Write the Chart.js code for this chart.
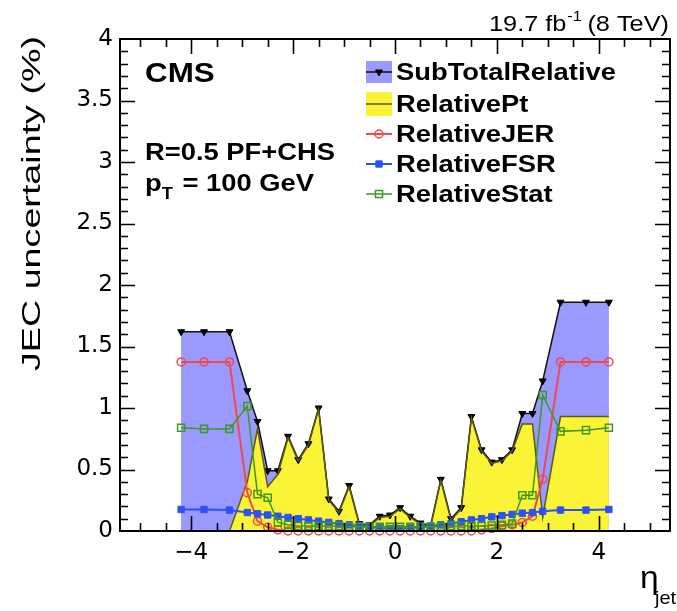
<!DOCTYPE html>
<html>
<head>
<meta charset="utf-8">
<script src="https://cdn.jsdelivr.net/npm/chart.js@4.4.1/dist/chart.umd.min.js"></script>
<style>
  body { margin: 0; background: #fff; }
  canvas { display: block; }
</style>
</head>
<body>
<canvas id="jecChart" width="677" height="611"></canvas>
<script>
// eta points of the JEC bins
var etaPoints = [-4.2, -3.75, -3.25, -2.9, -2.7, -2.5, -2.3, -2.1, -1.9, -1.7, -1.5, -1.3, -1.1, -0.9, -0.7, -0.5, -0.3, -0.1,
                 0.1, 0.3, 0.5, 0.7, 0.9, 1.1, 1.3, 1.5, 1.7, 1.9, 2.1, 2.3, 2.5, 2.7, 2.9, 3.25, 3.75, 4.2];

// uncertainties in %
var subTotalRelative = [1.62, 1.62, 1.62, 1.14, 0.89, 0.49, 0.49, 0.77, 0.58, 0.71, 1.00, 0.26, 0.16, 0.37, 0.06, 0.05, 0.12, 0.13,
                        0.19, 0.12, 0.065, 0.045, 0.42, 0.10, 0.19, 0.93, 0.66, 0.56, 0.58, 0.66, 0.955, 0.955, 1.22, 1.86, 1.86, 1.86];
var relativePt = [0, 0, 0, 0.40, 0.83, 0.36, 0.46, 0.76, 0.57, 0.70, 0.99, 0.25, 0.15, 0.36, 0.05, 0.04, 0.11, 0.12,
                  0.18, 0.11, 0.055, 0.035, 0.41, 0.09, 0.18, 0.92, 0.65, 0.55, 0.57, 0.65, 0.87, 0.87, 0.11, 0.93, 0.93, 0.93];
var relativeJER = [1.375, 1.375, 1.375, 0.31, 0.08, 0.03, 0.01, 0, 0, 0, 0, 0, 0, 0, 0, 0, 0, 0,
                   0, 0, 0, 0, 0, 0, 0, 0, 0.01, 0.02, 0.04, 0.05, 0.07, 0.12, 0.42, 1.375, 1.375, 1.375];
var relativeFSR = [0.175, 0.175, 0.17, 0.15, 0.14, 0.13, 0.12, 0.11, 0.10, 0.09, 0.08, 0.07, 0.06, 0.05, 0.04, 0.03, 0.025, 0.02,
                   0.02, 0.025, 0.03, 0.04, 0.05, 0.06, 0.075, 0.09, 0.10, 0.115, 0.125, 0.135, 0.145, 0.15, 0.16, 0.17, 0.17, 0.175];
var relativeStat = [0.84, 0.83, 0.83, 1.015, 0.30, 0.27, 0.07, 0.05, 0.04, 0.04, 0.04, 0.04, 0.04, 0.035, 0.035, 0.035, 0.035, 0.035,
                    0.035, 0.035, 0.035, 0.035, 0.035, 0.04, 0.04, 0.04, 0.04, 0.045, 0.05, 0.06, 0.29, 0.29, 1.105, 0.81, 0.82, 0.84];

var xTickValues = [-4, -2, 0, 2, 4];
var legendLabels = ["SubTotalRelative", "RelativePt", "RelativeJER", "RelativeFSR", "RelativeStat"];

function pts(vals) {
  return etaPoints.map(function (e, i) { return { x: e, y: vals[i] }; });
}

var FONT = '"Liberation Sans", Arial, sans-serif';

function putText(ctx, txt, x, y, size, bold, sx, align) {
  ctx.save();
  ctx.font = (bold ? 'bold ' : '') + size + 'px ' + FONT;
  var w = ctx.measureText(txt).width * sx;
  var x0 = align === 'right' ? x - w : x;
  ctx.translate(x0, y);
  ctx.scale(sx, 1);
  ctx.textAlign = 'left';
  ctx.textBaseline = 'alphabetic';
  ctx.fillStyle = '#000';
  ctx.fillText(txt, 0, 0);
  ctx.restore();
  return x0 + w;
}

// ROOT style frame with inner ticks on all four sides
var rootFrame = {
  id: 'rootFrame',
  afterDatasetsDraw: function (chart) {
    var ctx = chart.ctx, a = chart.chartArea;
    var xs = chart.scales.x, ys = chart.scales.y;
    ctx.save();
    ctx.strokeStyle = '#000';
    ctx.lineWidth = 1.6;
    ctx.beginPath();
    for (var v = -5; v <= 5.001; v += 0.5) {
      var px = Math.round(xs.getPixelForValue(v)) + 0.5;
      var len = Math.abs(v % 2) < 0.001 ? 15 : 8;
      ctx.moveTo(px, a.bottom); ctx.lineTo(px, a.bottom - len);
      ctx.moveTo(px, a.top); ctx.lineTo(px, a.top + len);
    }
    for (var k = 1; k < 40; k++) {
      var py = Math.round(ys.getPixelForValue(k / 10)) + 0.5;
      var l2 = k % 5 === 0 ? 15 : 8;
      ctx.moveTo(a.left, py); ctx.lineTo(a.left + l2, py);
      ctx.moveTo(a.right, py); ctx.lineTo(a.right - l2, py);
    }
    ctx.stroke();
    ctx.lineWidth = 2;
    ctx.strokeRect(a.left, a.top, a.right - a.left, a.bottom - a.top);
    ctx.restore();
  },
  afterDraw: function (chart) {
    var ctx = chart.ctx;
    var ds = chart.data.datasets;

    // lumi label
    ctx.save();
    var x = putText(ctx, '19.7 fb', 489, 31, 22, false, 1.15);
    ctx.save();
    ctx.font = '14px ' + FONT;
    ctx.fillStyle = '#000';
    ctx.translate(x + 1, 21); ctx.scale(1.15, 1); ctx.fillText('-1', 0, 0);
    ctx.restore();
    putText(ctx, ' (8 TeV)', x + 14, 31, 22, false, 1.15);

    putText(ctx, 'CMS', 145, 82, 28, true, 1.12);
    putText(ctx, 'R=0.5 PF+CHS', 145, 160, 24, true, 1.14);
    var xp = putText(ctx, 'p', 145, 191, 24, true, 1.14);
    var xt = putText(ctx, 'T', xp, 199, 16, true, 1.14);
    putText(ctx, ' = 100 GeV', xt + 2, 191, 24, true, 1.14);

    // y title, rotated
    ctx.save();
    ctx.font = '26px ' + FONT;
    var tw = ctx.measureText('JEC uncertainty (%)').width;
    var along = 335 / tw;
    ctx.translate(40, 36 + 335);
    ctx.rotate(-Math.PI / 2);
    ctx.scale(along, 1);
    ctx.fillStyle = '#000';
    ctx.fillText('JEC uncertainty (%)', 0, 0);
    ctx.restore();

    // x title
    putText(ctx, '\u03b7', 640, 588, 32, false, 1.05);
    putText(ctx, 'jet', 655, 604, 19, false, 1.05);

    // legend
    var bx0 = 366, bx1 = 392, rows = [72, 104, 134, 164, 194];
    ctx.fillStyle = ds[0].backgroundColor;
    ctx.fillRect(bx0, rows[0] - 11, bx1 - bx0, 22);
    ctx.fillStyle = ds[1].backgroundColor;
    ctx.fillRect(bx0, rows[1] - 12, bx1 - bx0, 24);
    legendLabels.forEach(function (lab, r) {
      var d = ds[r], cy = rows[r], cx = (bx0 + bx1) / 2;
      ctx.strokeStyle = d.borderColor;
      ctx.lineWidth = d.borderWidth;
      ctx.beginPath(); ctx.moveTo(bx0, cy); ctx.lineTo(bx1, cy); ctx.stroke();
      if (d.pointRadius > 0) {
        ctx.fillStyle = d.pointBackgroundColor;
        ctx.strokeStyle = d.pointBorderColor;
        ctx.lineWidth = d.pointBorderWidth;
        Chart.helpers.drawPoint(ctx, {
          pointStyle: d.pointStyle, rotation: d.pointRotation || 0,
          radius: d.pointRadius, borderWidth: d.pointBorderWidth
        }, cx, cy);
      }
      putText(ctx, lab, 396, cy + 8, 24, true, 1.14);
    });
    ctx.restore();
  }
};

new Chart('jecChart', {
  type: 'line',
  data: {
    datasets: [{
      label: legendLabels[0],
      data: pts(subTotalRelative),
      order: 5,
      fill: 'origin',
      backgroundColor: '#9999ff',
      borderColor: '#111',
      borderWidth: 1.5,
      pointStyle: 'triangle',
      pointRotation: 180,
      pointRadius: 4,
      pointBackgroundColor: '#000',
      pointBorderColor: '#000',
      pointBorderWidth: 1
    }, {
      label: legendLabels[1],
      data: pts(relativePt),
      order: 4,
      fill: 'origin',
      backgroundColor: '#fbf336',
      borderColor: '#5a5a10',
      borderWidth: 1.5,
      pointRadius: 0
    }, {
      label: legendLabels[2],
      data: pts(relativeJER),
      order: 3,
      fill: false,
      borderColor: '#f04a4a',
      borderWidth: 2,
      pointStyle: 'circle',
      pointRadius: 4,
      pointBackgroundColor: 'rgba(0,0,0,0)',
      pointBorderColor: '#f04a4a',
      pointBorderWidth: 1.5,
      clip: { left: 0, top: 0, right: 0, bottom: 6 }
    }, {
      label: legendLabels[3],
      data: pts(relativeFSR),
      order: 2,
      fill: false,
      borderColor: '#2a52f8',
      borderWidth: 2,
      pointStyle: 'rect',
      pointRadius: 4.5,
      pointBackgroundColor: '#2a52f8',
      pointBorderColor: '#2a52f8',
      pointBorderWidth: 1
    }, {
      label: legendLabels[4],
      data: pts(relativeStat),
      order: 1,
      fill: false,
      borderColor: '#3c9a1e',
      borderWidth: 1.5,
      pointStyle: 'rect',
      pointRadius: 5,
      pointBackgroundColor: 'rgba(0,0,0,0)',
      pointBorderColor: '#3c9a1e',
      pointBorderWidth: 1.5
    }]
  },
  options: {
    responsive: false,
    animation: false,
    layout: { padding: { left: 0, top: 39, right: 7, bottom: 0 } },
    elements: { line: { tension: 0 } },
    plugins: {
      legend: { display: false },
      tooltip: { enabled: false },
      filler: { drawTime: 'beforeDatasetsDraw' }
    },
    scales: {
      x: {
        type: 'linear',
        min: -5.4,
        max: 5.4,
        grid: { display: false, drawTicks: false },
        border: { display: true, color: '#000', width: 2 },
        afterBuildTicks: function (s) { s.ticks = xTickValues.map(function (v) { return { value: v }; }); },
        afterFit: function (s) { s.height = 80; },
        ticks: {
          color: '#000',
          padding: 8,
          maxRotation: 0,
          autoSkip: false,
          font: { family: 'DejaVu Sans', size: 23 },
          callback: function (v) { return v < 0 ? '\u2212' + (-v) : String(v); }
        }
      },
      y: {
        min: 0,
        max: 4,
        grid: { display: false, drawTicks: false },
        border: { display: true, color: '#000', width: 2 },
        afterFit: function (s) { s.width = 120; },
        ticks: {
          stepSize: 0.5,
          color: '#000',
          padding: 7,
          font: { family: 'DejaVu Sans', size: 23 },
          callback: function (v) { return String(Math.round(v * 10) / 10); }
        }
      }
    }
  },
  plugins: [rootFrame]
});
</script>
</body>
</html>
